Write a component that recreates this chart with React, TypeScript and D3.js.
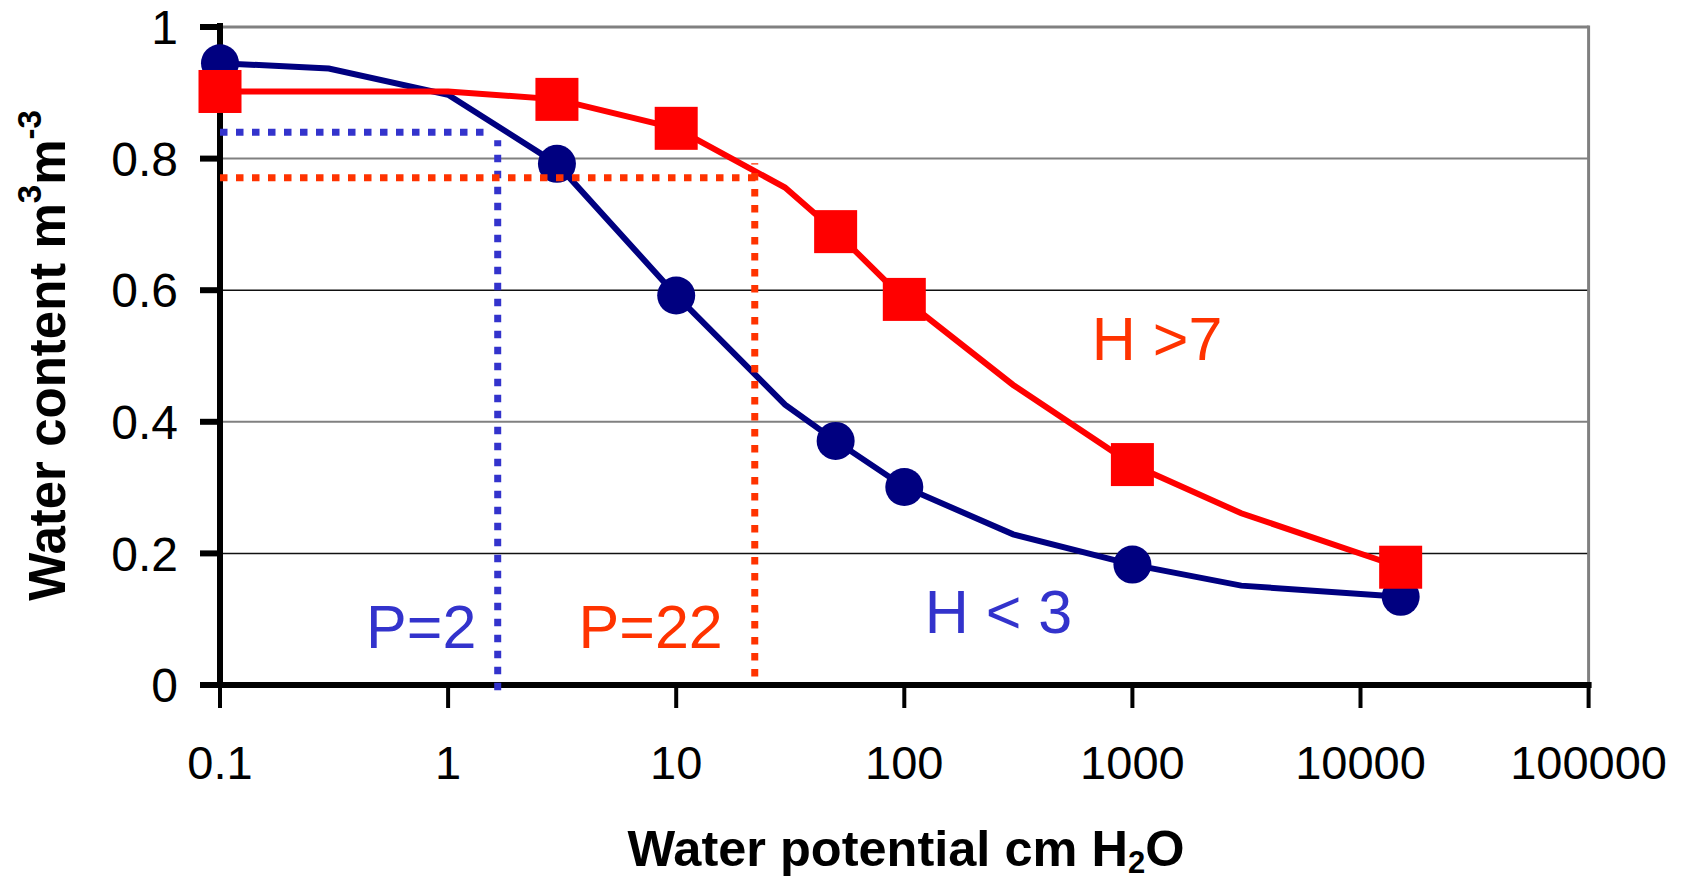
import React from "react";
import * as d3 from "d3";

// ---- data ----
const potentials = [0.1, 0.3, 1, 3, 10, 30, 50, 100, 300, 1000, 3000, 15000];
const lowH = [0.945, 0.937, 0.897, 0.792, 0.592, 0.426, 0.371, 0.301, 0.229, 0.183, 0.151, 0.134];
const highH = [0.902, 0.902, 0.902, 0.89, 0.846, 0.756, 0.689, 0.586, 0.456, 0.335, 0.261, 0.179];
const measured = [true, false, false, true, true, false, true, true, false, true, false, true];

const xTicks = [0.1, 1, 10, 100, 1000, 10000, 100000];
const xTickLabels = ["0.1", "1", "10", "100", "1000", "10000", "100000"];
const yTicks = [0, 0.2, 0.4, 0.6, 0.8, 1];
const yTickLabels = ["0", "0.2", "0.4", "0.6", "0.8", "1"];

// dotted reference lines [x1, y1, x2, y2] in data units
const blueGuideH = [0.1, 0.84, 1.54, 0.84];
const blueGuideV = [1.65, -0.008, 1.65, 0.828];
const redGuideH = [0.1, 0.771, 22.6, 0.771];
const redGuideV = [22.1, 0.013, 22.1, 0.793];

// annotations: [x, y] in data units
const annoText = ["P=2", "P=22", "H < 3", "H >7"];
const annoX = [1.33, 16, 123, 664];
const annoY = [0.056, 0.056, 0.0785, 0.494];
const annoAnchor = ["end", "end", "start", "start"];
const annoColor = ["#3333CC", "#FF3300", "#3333CC", "#FF3300"];

const FONT = "'Liberation Sans', Arial, Helvetica, sans-serif";

export default function App() {
  const x = d3.scaleLog().domain([0.1, 100000]).range([220, 1588.6]);
  const y = d3.scaleLinear().domain([0, 1]).range([685, 27]);
  const [x0, x1] = x.range();
  const [yb, yt] = y.range();

  const lineGen = d3
    .line<number>()
    .x((_, i) => x(potentials[i]))
    .y((d) => y(d));

  const gridStyle = (v: number) =>
    v === 1 ? { stroke: "#808080", w: 3 } :
    v === 0.8 || v === 0.4 ? { stroke: "#808080", w: 2 } :
    { stroke: "#111", w: 1.5 };

  const guide = (g: number[], color: string, key: string) => (
    <line
      key={key}
      x1={x(g[0])}
      y1={y(g[1])}
      x2={x(g[2])}
      y2={y(g[3])}
      stroke={color}
      strokeWidth={7}
      strokeDasharray="7.5 8.5"
    />
  );

  const sq = 43;

  return (
    <svg
      width={1691}
      height={880}
      style={{ position: "absolute", left: 0, top: 0, display: "block", background: "#fff" }}
      fontFamily={FONT}
    >
      <rect x={0} y={0} width={1691} height={880} fill="#fff" />
      {/* gridlines */}
      {yTicks.filter((v) => v > 0).map((v) => {
        const s = gridStyle(v);
        return (
          <line key={"g" + v} x1={x0} x2={x1} y1={y(v)} y2={y(v)} stroke={s.stroke} strokeWidth={s.w} />
        );
      })}
      {/* right border */}
      <line x1={x1} x2={x1} y1={yt - 1.5} y2={yb} stroke="#808080" strokeWidth={3} />

      {/* axes */}
      <line x1={x0} x2={x0} y1={yt - 4} y2={yb + 3} stroke="#000" strokeWidth={6} />
      <line x1={x0 - 3} x2={x1 + 3} y1={yb} y2={yb} stroke="#000" strokeWidth={6} />
      {yTicks.map((v, i) => (
        <g key={"yt" + v}>
          <line x1={x0 - 20} x2={x0} y1={y(v)} y2={y(v)} stroke="#000" strokeWidth={6} />
          <text x={178} y={y(v)} dy="0.36em" textAnchor="end" fontSize={48} fill="#000">
            {yTickLabels[i]}
          </text>
        </g>
      ))}
      {xTicks.map((v, i) => (
        <g key={"xt" + v}>
          <line x1={x(v)} x2={x(v)} y1={yb} y2={yb + 23} stroke="#000" strokeWidth={4} />
          <text x={x(v)} y={779} textAnchor="middle" fontSize={47} fill="#000">
            {xTickLabels[i]}
          </text>
        </g>
      ))}

      {/* series lines */}
      <path d={lineGen(lowH) || ""} fill="none" stroke="#000080" strokeWidth={6} />
      <path d={lineGen(highH) || ""} fill="none" stroke="#FF0000" strokeWidth={6} />

      {/* markers */}
      {lowH.map((v, i) =>
        measured[i] ? <circle key={"c" + i} cx={x(potentials[i])} cy={y(v)} r={19} fill="#000080" /> : null
      )}
      {highH.map((v, i) =>
        measured[i] ? (
          <rect key={"s" + i} x={x(potentials[i]) - sq / 2} y={y(v) - sq / 2} width={sq} height={sq} fill="#FF0000" />
        ) : null
      )}

      {/* dotted guides */}
      {guide(blueGuideH, "#3333CC", "bh")}
      {guide(blueGuideV, "#3333CC", "bv")}
      {guide(redGuideH, "#FF3300", "rh")}
      {guide(redGuideV, "#FF3300", "rv")}

      {/* annotations */}
      {annoText.map((t, i) => (
        <text
          key={"a" + i}
          x={x(annoX[i])}
          y={y(annoY[i])}
          textAnchor={annoAnchor[i] as any}
          fontSize={61}
          fill={annoColor[i]}
          style={{ whiteSpace: "pre" }}
        >
          {t}
        </text>
      ))}

      {/* axis titles */}
      <text x={906} y={866} textAnchor="middle" fontSize={50.5} fontWeight="bold" fill="#000">
        Water potential cm H<tspan fontSize={31} dy={7}>2</tspan>
        <tspan dy={-7}>O</tspan>
      </text>
      <text
        transform="translate(65,355.5) rotate(-90)"
        textAnchor="middle"
        fontSize={51}
        fontWeight="bold"
        fill="#000"
      >
        Water content m<tspan fontSize={33} dy={-24}>3</tspan>
        <tspan dy={24}>m</tspan>
        <tspan fontSize={33} dy={-24}>-3</tspan>
      </text>
    </svg>
  );
}
